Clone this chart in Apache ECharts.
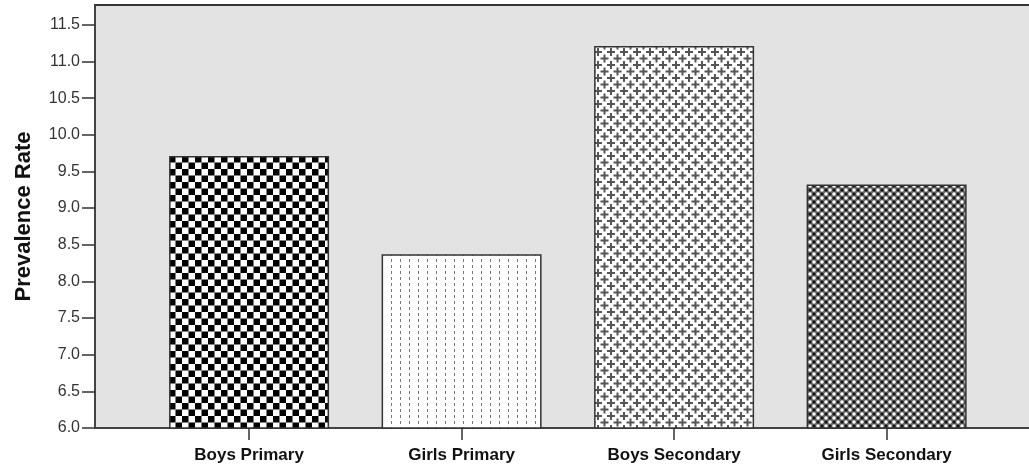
<!DOCTYPE html>
<html>
<head>
<meta charset="utf-8">
<script src="https://cdn.jsdelivr.net/npm/echarts@6/dist/echarts.min.js"></script>
<style>
    html, body { margin: 0; padding: 0; background: #fff; }
    #chart { width: 1029px; height: 469px; }
</style>
</head>
<body>
<div id="chart"></div>
<script>
    // data
    const categories = ['Boys Primary', 'Girls Primary', 'Boys Secondary', 'Girls Secondary']
    const values = [9.71, 8.37, 11.21, 9.32]
    const yTicks = [6.0, 6.5, 7.0, 7.5, 8.0, 8.5, 9.0, 9.5, 10.0, 10.5, 11.0, 11.5]
    const xPos = [1, 2, 3, 4]

    function tile(w, h, draw) {
        let c = document.createElement('canvas')
        c.width = w
        c.height = h
        let ctx = c.getContext('2d')
        ctx.fillStyle = '#fff'
        ctx.fillRect(0, 0, w, h)
        draw(ctx)
        return { image: c, repeat: 'repeat' }
    }

    // checkerboard
    let checker = tile(13, 13, function (ctx) {
        ctx.fillStyle = '#000'
        ctx.fillRect(0, 0, 6.5, 6.5)
        ctx.fillRect(6.5, 6.5, 6.5, 6.5)
    })
    // small vertical dashes
    let dashes = tile(9, 6, function (ctx) {
        ctx.fillStyle = '#777'
        ctx.fillRect(4, 1, 1, 3)
    })
    // plus signs, staggered
    let pluses = tile(13, 13, function (ctx) {
        ctx.fillStyle = '#555'
        let plus = function (x, y) {
            ctx.fillRect(x - 4, y - 1, 8, 2)
            ctx.fillRect(x - 1, y - 4, 2, 8)
        }
        plus(6.5, 6.5)
        plus(0, 0); plus(13, 0); plus(0, 13); plus(13, 13)
    })
    // dark mesh with white dots
    let mesh = tile(8, 8, function (ctx) {
        ctx.fillStyle = '#666'
        ctx.fillRect(0, 0, 8, 8)
        ctx.fillStyle = '#fff'
        ctx.beginPath(); ctx.arc(2, 2, 1.7, 0, Math.PI * 2); ctx.fill()
        ctx.beginPath(); ctx.arc(6, 6, 1.7, 0, Math.PI * 2); ctx.fill()
        ctx.fillStyle = '#111'
        ctx.beginPath(); ctx.arc(6, 2, 1.5, 0, Math.PI * 2); ctx.fill()
        ctx.beginPath(); ctx.arc(2, 6, 1.5, 0, Math.PI * 2); ctx.fill()
    })
    const fills = [checker, dashes, pluses, mesh]

    let mychart = echarts.init(document.getElementById('chart'))
    let option = {
        animation: false,
        grid: {
            left: 95,
            right: 0,
            top: 5,
            bottom: 41,
            show: true,
            backgroundColor: '#e3e3e3',
            borderWidth: 0
        },
        xAxis: [
            {
                type: 'value',
                min: 0.275,
                max: 4.67,
                splitLine: { show: false },
                axisLine: { lineStyle: { color: '#444', width: 2 } },
                axisTick: { customValues: xPos, length: 12, lineStyle: { color: '#333', width: 1.5 } },
                axisLabel: {
                    customValues: xPos,
                    formatter: function (v) { return categories[v - 1] },
                    margin: 19,
                    fontFamily: 'Liberation Sans',
                    fontWeight: 'bold',
                    fontSize: 17,
                    color: '#111'
                }
            },
            {
                type: 'value',
                position: 'top',
                min: 0.275,
                max: 4.67,
                splitLine: { show: false },
                axisLine: { lineStyle: { color: '#333', width: 2 } },
                axisTick: { show: false },
                axisLabel: { show: false }
            }
        ],
        yAxis: {
            type: 'value',
            min: 6,
            max: 11.77,
            name: 'Prevalence Rate',
            nameLocation: 'middle',
            nameGap: 60,
            nameTextStyle: {
                fontFamily: 'Liberation Sans',
                fontWeight: 'bold',
                fontSize: 22,
                color: '#111'
            },
            splitLine: { show: false },
            axisLine: { show: true, lineStyle: { color: '#444', width: 2 } },
            axisTick: { customValues: yTicks, length: 13, lineStyle: { color: '#333', width: 1.5 } },
            axisLabel: {
                customValues: yTicks,
                formatter: function (v) { return v.toFixed(1) },
                margin: 15,
                fontFamily: 'Liberation Sans',
                fontSize: 16,
                color: '#333'
            }
        },
        series: [
            {
                type: 'bar',
                barWidth: 160,
                data: values.map(function (v, i) {
                    return {
                        value: [xPos[i], v],
                        itemStyle: { color: fills[i] }
                    }
                }),
                itemStyle: {
                    borderColor: '#333',
                    borderWidth: 1.5
                }
            }
        ]
    }
    mychart.setOption(option)
</script>
</body>
</html>
